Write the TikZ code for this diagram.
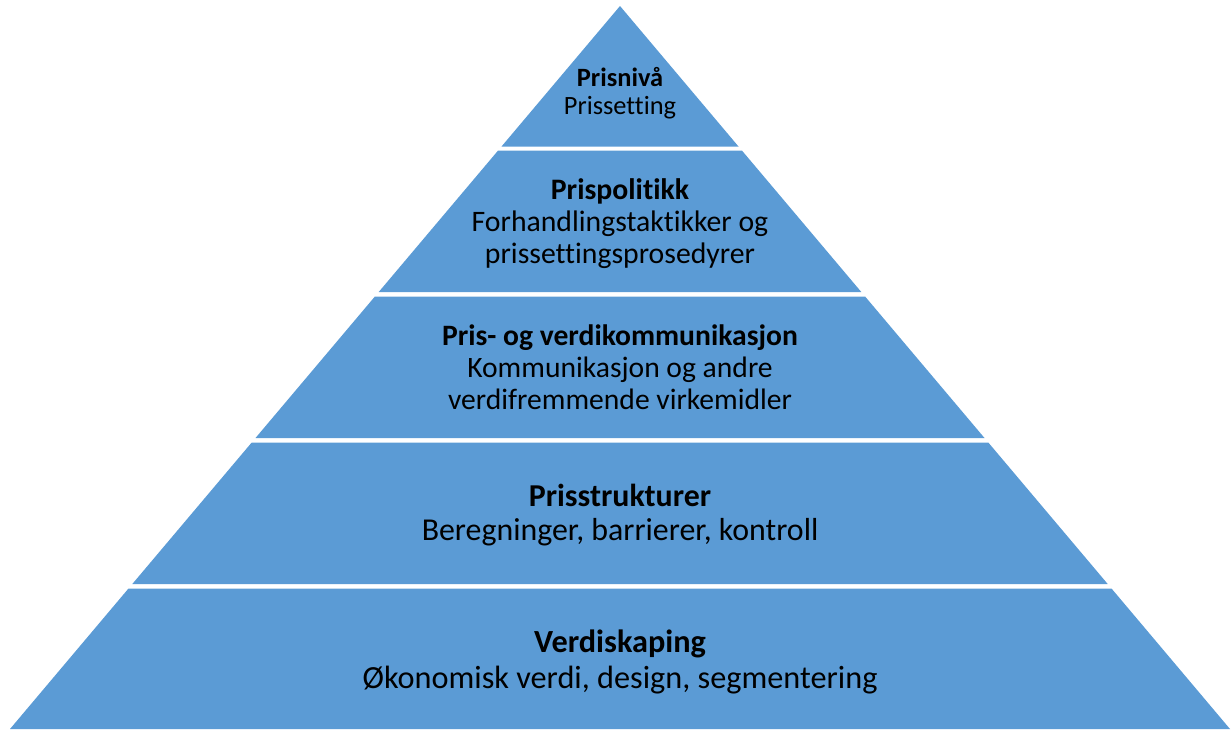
\documentclass[tikz,border=0pt]{standalone}
\usepackage{fontspec}
\setmainfont{Carlito}[Ligatures=NoCommon]
\definecolor{pyr}{HTML}{5B9BD5}
\tikzset{
  layer/.style={fill=pyr, draw=none},
  lbl/.style={align=center, text=black, inner sep=0pt}
}
\begin{document}
\begin{tikzpicture}[x=0.75pt,y=-0.75pt]
\useasboundingbox (0,0) rectangle (1231,729);
\fill[layer] (620,6) -- (738.5,146.5) -- (501.5,146.5) -- cycle;
\fill[layer] (498.1,150.5) -- (741.9,150.5) -- (861.3,292) -- (378.7,292) -- cycle;
\fill[layer] (374.9,296.5) -- (865.1,296.5) -- (984.5,438) -- (255.5,438) -- cycle;
\fill[layer] (251.7,442.5) -- (988.3,442.5) -- (1107.7,584) -- (132.3,584) -- cycle;
\fill[layer] (128.5,588.5) -- (1111.5,588.5) -- (1230,729) -- (10,729) -- cycle;
\node[lbl, font=\fontsize{19.8}{21.2}\selectfont] (t1) at (620,93) {\textbf{Prisnivå}\\Prissetting};
\node[lbl, font=\fontsize{22.3}{24}\selectfont] (t2) at (620,224) {\textbf{Prispolitikk}\\Forhandlingstaktikker og\\prissettingsprosedyrer};
\node[lbl, font=\fontsize{22.2}{24}\selectfont] (t3) at (620,367) {\textbf{Pris- og verdikommunikasjon}\\Kommunikasjon og andre\\verdifremmende virkemidler};
\node[lbl, font=\fontsize{23.9}{25.7}\selectfont] (t4) at (620,515) {\textbf{Prisstrukturer}\\Beregninger, barrierer, kontroll};
\node[lbl, font=\fontsize{24.2}{27}\selectfont] (t5) at (620,662) {\textbf{Verdiskaping}\\Økonomisk verdi, design, segmentering};
\end{tikzpicture}
\end{document}
